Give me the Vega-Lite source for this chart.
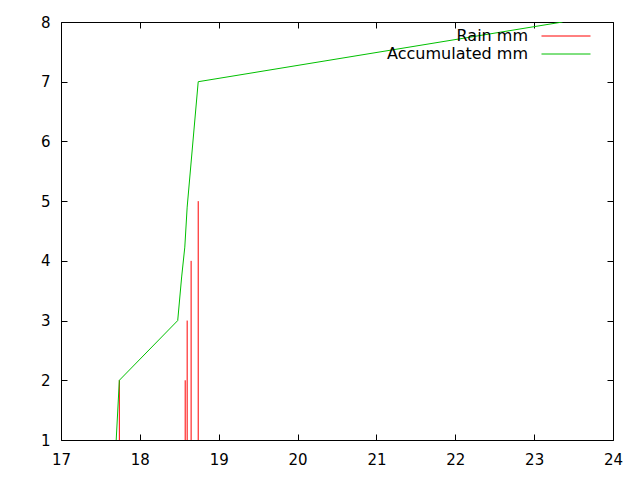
{
  "$schema": "https://vega.github.io/schema/vega-lite/v6.json",
  "autosize": "none",
  "width": 552,
  "height": 418,
  "padding": {"left": 61, "top": 22, "right": 27, "bottom": 40},
  "background": "white",
  "config": {
    "view": {"stroke": "black", "strokeWidth": 1},
    "axis": {
      "grid": false,
      "domain": false,
      "tickColor": "black",
      "tickSize": -6,
      "labelFlush": false,
      "labelFont": "DejaVu Sans",
      "labelFontSize": 15,
      "labelColor": "black",
      "title": null
    },
    "legend": {
      "labelFont": "DejaVu Sans",
      "labelFontSize": 16,
      "labelColor": "black"
    }
  },
  "datasets": {
    "rain": [
      {"t": 17.74, "v": 2, "s": "Rain mm"},
      {"t": 18.575, "v": 2, "s": "Rain mm"},
      {"t": 18.6, "v": 3, "s": "Rain mm"},
      {"t": 18.65, "v": 4, "s": "Rain mm"},
      {"t": 18.74, "v": 5, "s": "Rain mm"}
    ],
    "acc": [
      {"t": 17.66, "v": 0, "s": "Accumulated mm"},
      {"t": 17.74, "v": 2, "s": "Accumulated mm"},
      {"t": 18.48, "v": 3, "s": "Accumulated mm"},
      {"t": 18.53, "v": 3.73, "s": "Accumulated mm"},
      {"t": 18.57, "v": 4.23, "s": "Accumulated mm"},
      {"t": 18.6, "v": 4.9, "s": "Accumulated mm"},
      {"t": 18.74, "v": 7, "s": "Accumulated mm"},
      {"t": 23.36, "v": 8, "s": "Accumulated mm"}
    ]
  },
  "resolve": {"axis": {"x": "independent", "y": "independent"}},
  "layer": [
    {
      "data": {"name": "rain"},
      "mark": {"type": "rule", "strokeWidth": 1, "clip": true},
      "encoding": {
        "x": {"field": "t", "type": "quantitative", "scale": {"domain": [17, 24], "nice": false, "zero": false},
              "axis": {"orient": "bottom", "values": [17,18,19,20,21,22,23,24], "labelPadding": 18}},
        "y": {"field": "v", "type": "quantitative", "scale": {"domain": [1, 8], "nice": false, "zero": false},
              "axis": {"orient": "left", "values": [1,2,3,4,5,6,7,8], "labelPadding": 17}},
        "y2": {"datum": 1},
        "color": {"field": "s", "type": "nominal",
          "scale": {"domain": ["Rain mm", "Accumulated mm"], "range": ["#ff0000", "#00c000"]},
          "legend": {"title": null, "orient": "none", "legendX": 496, "legendY": 5, "symbolType": "M-3,0H3", "symbolSize": 267, "symbolStrokeWidth": 1, "symbolFillColor": "transparent", "labelAlign": "right", "labelOffset": -47, "rowPadding": 1}}
      }
    },
    {
      "data": {"name": "acc"},
      "mark": {"type": "line", "strokeWidth": 1, "clip": true},
      "encoding": {
        "x": {"field": "t", "type": "quantitative", "axis": {"orient": "top", "values": [17,18,19,20,21,22,23,24], "labels": false}},
        "y": {"field": "v", "type": "quantitative", "axis": {"orient": "right", "values": [1,2,3,4,5,6,7,8], "labels": false}},
        "color": {"field": "s", "type": "nominal"}
      }
    }
  ]
}
